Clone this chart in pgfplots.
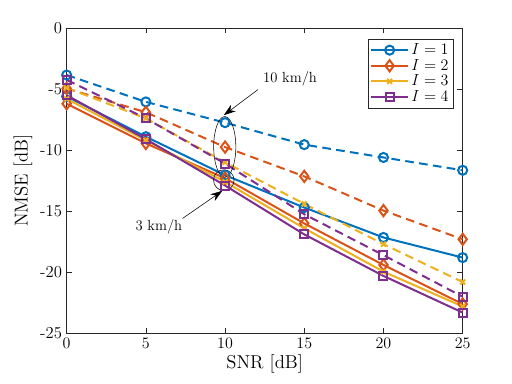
\documentclass[border=0pt]{standalone}
\usepackage{pgfplots}
\pgfplotsset{compat=1.18}
\usetikzlibrary{arrows.meta}

\definecolor{mblue}{rgb}{0,0.447,0.741}
\definecolor{mred}{rgb}{0.85,0.325,0.098}
\definecolor{myellow}{rgb}{0.929,0.694,0.125}
\definecolor{mpurple}{rgb}{0.494,0.184,0.556}
\definecolor{axgray}{rgb}{0.15,0.15,0.15}

\begin{document}
\begin{tikzpicture}
\begin{axis}[
  name=ax,
  scale only axis,
  width=297pt, height=229pt,
  xmin=0, xmax=25, ymin=-25, ymax=0,
  xtick={0,5,10,15,20,25},
  ytick={-25,-20,-15,-10,-5,0},
  yticklabels={\mbox{-25},\mbox{-20},\mbox{-15},\mbox{-10},\mbox{-5},0},
  tick align=inside,
  major tick length=4pt,
  axis line style={axgray, line width=0.5pt},
  tick style={axgray, line width=0.5pt},
  xlabel={SNR [dB]},
  ylabel={NMSE [dB]},
  tick label style={font=\fontsize{12.5}{14}\selectfont},
  label style={font=\fontsize{14}{16}\selectfont},
  xlabel style={yshift=2pt},
  ylabel style={yshift=-1pt},
  legend style={font=\fontsize{12}{14}\selectfont, at={(0.977,0.965)}, anchor=north east,
    draw=axgray, line width=0.5pt, inner sep=1.5pt, row sep=-2pt},
  legend cell align=left,
  legend image code/.code={
    \draw[mark repeat=2,mark phase=2] plot coordinates {(0cm,0cm) (0.48cm,0cm) (0.96cm,0cm)};},
  every axis plot/.append style={line width=1.5pt},
]
% 3 km/h (solid)
\addplot[color=mblue, mark=o, mark size=3.4pt, mark options={solid}] coordinates {
  (0,-5.6) (5,-8.9) (10,-12.05) (15,-14.7) (20,-17.15) (25,-18.8)};
\addlegendentry{$I=1$}
\addplot[color=mred, mark=diamond, mark size=4.2pt, mark options={solid}] coordinates {
  (0,-6.2) (5,-9.45) (10,-12.3) (15,-16.0) (20,-19.4) (25,-22.6)};
\addlegendentry{$I=2$}
\addplot[color=myellow, mark=x, mark size=2.6pt, mark options={solid}] coordinates {
  (0,-5.8) (5,-9.2) (10,-12.6) (15,-16.4) (20,-19.95) (25,-22.8)};
\addlegendentry{$I=3$}
\addplot[color=mpurple, mark=square, mark size=3pt, mark options={solid}] coordinates {
  (0,-5.5) (5,-9.1) (10,-12.9) (15,-16.9) (20,-20.3) (25,-23.3)};
\addlegendentry{$I=4$}
% 10 km/h (dashed)
\addplot[forget plot, color=mblue, dash pattern=on 6.5pt off 4pt, mark=o, mark size=3.4pt, mark options={solid}] coordinates {
  (0,-3.85) (5,-6.05) (10,-7.75) (15,-9.55) (20,-10.6) (25,-11.65)};
\addplot[forget plot, color=mred, dash pattern=on 6.5pt off 4pt, mark=diamond, mark size=4.2pt, mark options={solid}] coordinates {
  (0,-4.95) (5,-6.9) (10,-9.75) (15,-12.15) (20,-14.95) (25,-17.3)};
\addplot[forget plot, color=myellow, dash pattern=on 6.5pt off 4pt, mark=x, mark size=2.6pt, mark options={solid}] coordinates {
  (0,-4.9) (5,-7.4) (10,-11.0) (15,-14.4) (20,-17.7) (25,-20.8)};
\addplot[forget plot, color=mpurple, dash pattern=on 6.5pt off 4pt, mark=square, mark size=3pt, mark options={solid}] coordinates {
  (0,-4.25) (5,-7.4) (10,-11.1) (15,-15.25) (20,-18.6) (25,-22.0)};

% annotations
\draw[black, line width=0.4pt] (axis cs:9.98,-9.73) ellipse [x radius=8.3pt, y radius=22.7pt];
\draw[black, line width=0.4pt] (axis cs:9.92,-12.46) ellipse [x radius=7.7pt, y radius=7.8pt];
\draw[black, line width=0.4pt, -{Stealth[length=9pt,width=6pt]}] (axis cs:12.08,-5.04) -- (axis cs:9.92,-7.14);
\draw[black, line width=0.4pt, -{Stealth[length=9pt,width=6pt]}] (axis cs:7.31,-15.6) -- (axis cs:9.83,-13.33);
\node[font=\fontsize{11}{13}\selectfont] at (axis cs:14.1,-4.2) {10 km/h};
\node[font=\fontsize{11}{13}\selectfont] at (axis cs:5.82,-16.28) {3 km/h};
\end{axis}
\path ([shift={(-50pt,-38pt)}]ax.south west) rectangle ([shift={(37pt,21pt)}]ax.north east);
\end{tikzpicture}
\end{document}
